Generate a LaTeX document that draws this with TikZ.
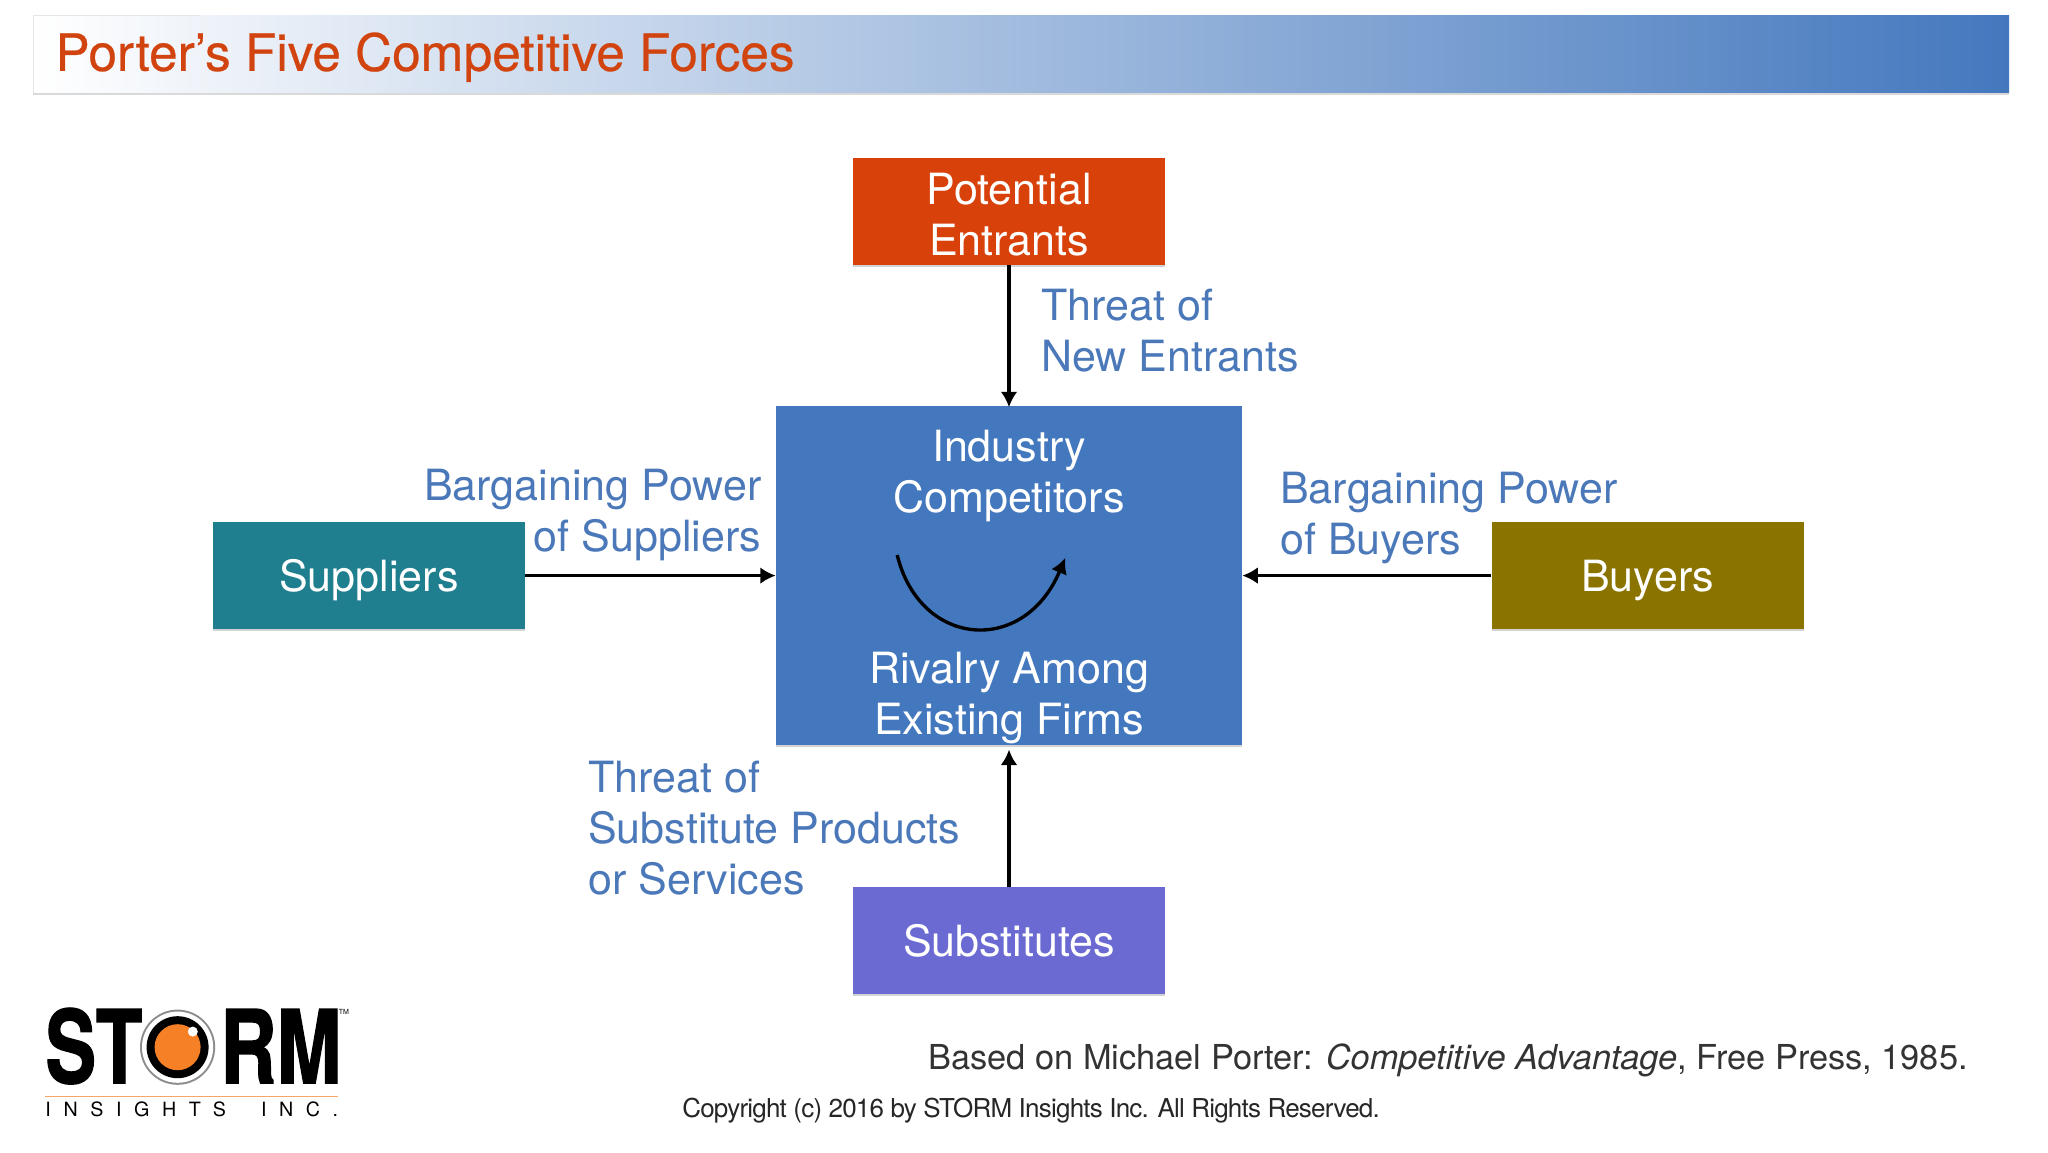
\documentclass[tikz,border=0pt]{standalone}
\usepackage{fontspec}
\setmainfont{TeX Gyre Heros}
\usetikzlibrary{shadows,arrows.meta}
\definecolor{entrantred}{HTML}{D8420A}
\definecolor{titlered}{HTML}{D2440F}
\definecolor{rivalblue}{HTML}{4478BE}
\definecolor{labelblue}{HTML}{4A78B8}
\definecolor{suppliersteal}{HTML}{1F7F8E}
\definecolor{buyersolive}{HTML}{8B7300}
\definecolor{substpurple}{HTML}{6A6AD2}
\definecolor{logoorange}{HTML}{F58026}
\tikzset{
  force box/.style={minimum width=7.8cm,minimum height=2.675cm,align=center,text=white,inner sep=0pt,text depth=0pt,
    font=\fontsize{30.6}{36.4}\selectfont,drop shadow={shadow xshift=0pt,shadow yshift=-1.2pt,opacity=0.35}},
  force text/.style={align=left,inner sep=0pt,text=labelblue,font=\fontsize{30.6}{36.4}\selectfont},
  rival text/.style={align=center,inner sep=0pt,text=white,font=\fontsize{30.6}{36.4}\selectfont},
  force arrow/.style={-{Latex[length=11pt,width=12pt]},line width=2.4pt,black},
  logo text/.style={anchor=base west,inner sep=0pt,font=\fontsize{72}{72}\bfseries\selectfont\addfontfeature{FakeBold=1.5}},
}
\begin{document}
\begin{tikzpicture}
  \useasboundingbox (0,0) rectangle (51.2,28.8);

  % title bar
  \fill[black!15] (0.825,26.43) rectangle (50.225,27);
  \shade[left color=white,right color=rivalblue] (0.825,26.475) rectangle (50.225,28.42);
  \draw[black!10,line width=0.4pt] (0.825,26.475) -- (0.825,28.42) -- (5,28.42);
  \node[anchor=base west,inner sep=0pt,text=titlered,font=\fontsize{36.5}{40}\selectfont\addfontfeature{FakeBold=0.5}] (title) at (1.38,27.03) {Porter’s Five Competitive Forces};

  % the five boxes
  \node[force box,fill=entrantred] (entrants) at (25.225,23.51) {};
  \node[force box,fill=rivalblue,minimum width=11.65cm,minimum height=8.475cm] (rivals) at (25.225,14.41) {};
  \node[force box,fill=suppliersteal] (suppliers) at (9.225,14.41) {Suppliers};
  \node[force box,fill=buyersolive] (buyers) at (41.19,14.41) {Buyers};
  \node[force box,fill=substpurple] (substitutes) at (25.225,5.29) {Substitutes};

  \node[rival text] (potential) at (25.225,23.44) {Potential\\Entrants};
  \node[rival text] (industry) at (25.225,16.9) {Industry\\Competitors};
  \node[rival text] (rivalry) at (25.225,11.35) {Rivalry Among\\Existing Firms};

  \draw[force arrow,shorten >=-1pt] (entrants) -- (rivals);
  \draw[force arrow] (suppliers) -- (rivals);
  \draw[force arrow] (buyers) -- (rivals);
  \draw[force arrow,shorten >=3pt] (substitutes) -- (rivals);

  \coordinate (arcstart) at (22.43,14.925);
  \coordinate (arcend) at (26.63,14.85);
  \draw[force arrow] (arcstart) .. controls (23.0,12.6) and (25.6,12.4) .. (arcend);

  \node[force text,anchor=west] (newentrants) at (26.025,20.54) {Threat of\\New Entrants};
  \node[force text,anchor=east,align=right] (supplierpower) at (19.04,15.92) {Bargaining Power\\of Suppliers};
  \node[force text,anchor=west] (buyerpower) at (32.0,15.85) {Bargaining Power\\of Buyers};
  \node[force text,anchor=west] (subthreat) at (14.7,8.1) {Threat of\\Substitute Products\\or Services};

  \node[anchor=east,inner sep=0pt,text=black!80,font=\fontsize{24.45}{30}\selectfont] (source) at (49.2,2.285) {Based on Michael Porter: \textit{Competitive Advantage}, Free Press, 1985.};
  \node[anchor=west,inner sep=0pt,text=black!85,font=\fontsize{18.5}{24}\selectfont\addfontfeature{LetterSpace=-3}] (copyright) at (17.05,1.035) {Copyright (c) 2016 by STORM Insights Inc. All Rights Reserved.};

  % logo
  \node[logo text] (logost) at (1.13,1.725) {\scalebox{0.75}[1]{ST}};
  \node[logo text] (logorm) at (5.5,1.725) {\scalebox{0.77}[1]{RM}};
  \fill[black!45] (4.44,2.62) circle (0.94);
  \fill[white] (4.44,2.62) circle (0.89);
  \fill[black] (4.44,2.62) circle (0.775);
  \fill[logoorange] (4.44,2.62) circle (0.575);
  \fill[white] (4.82,3.01) circle (0.125);
  \node[inner sep=0pt,font=\fontsize{5}{6}\selectfont] (logotm) at (8.6,3.5) {TM};
  \draw[logoorange!70,line width=0.7pt] (1.13,1.4) -- (8.45,1.4);
  \node[anchor=base west,inner sep=0pt,font=\fontsize{14}{16}\selectfont\addfontfeature{LetterSpace=64}] (logoinc) at (1.13,0.88) {INSIGHTS\hspace{12pt} INC.};
\end{tikzpicture}
\end{document}
